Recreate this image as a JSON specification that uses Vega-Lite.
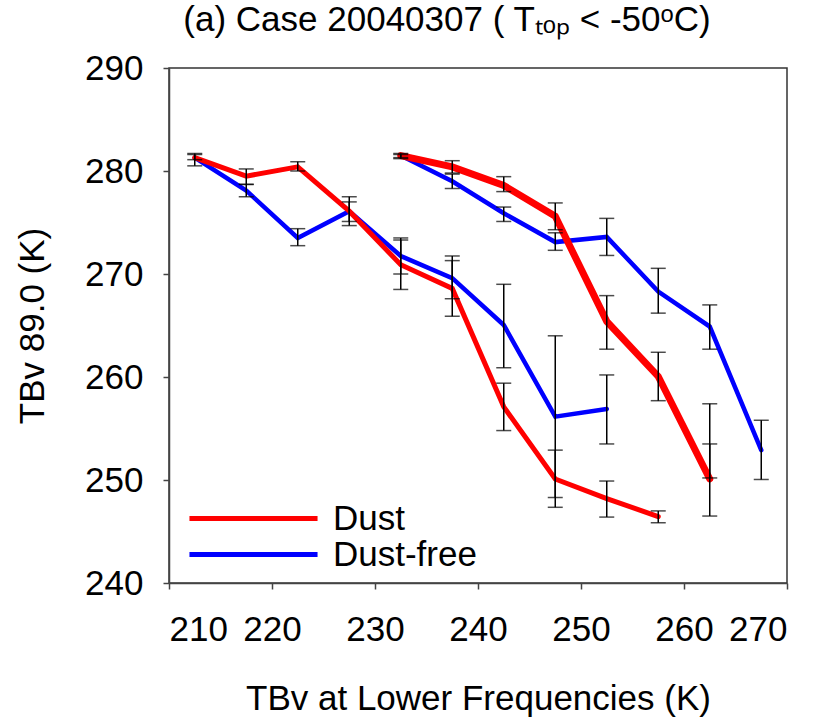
{
  "$schema": "https://vega.github.io/schema/vega-lite/v6.json",
  "width": 618,
  "height": 515,
  "autosize": "none",
  "padding": {"left": 169, "top": 68, "right": 33, "bottom": 138},
  "background": "white",
  "config": {
    "font": "Liberation Sans",
    "view": {"stroke": "#333333", "strokeWidth": 1.5},
    "axis": {
      "grid": false,
      "domainColor": "#444444",
      "domainWidth": 1.5,
      "tickColor": "#444444",
      "tickWidth": 1.5,
      "tickSize": 6,
      "labelFontSize": 35,
      "labelColor": "black",
      "labelFont": "Liberation Sans",
      "titleFontSize": 35,
      "titleFontWeight": "normal",
      "titleColor": "black",
      "titleFont": "Liberation Sans"
    },
    "legend": {
      "orient": "none",
      "legendX": 67,
      "legendY": 433,
      "symbolType": "M-4.27,0H4.27",
      "symbolSize": 900,
      "symbolStrokeWidth": 5,
      "labelFontSize": 35,
      "labelFont": "Liberation Sans",
      "labelColor": "black",
      "labelOffset": 62,
      "rowPadding": -3,
      "padding": 0
    }
  },
  "title": {
    "text": "(a) Case 20040307 ( Tₜₒₚ < -50ᵒC)",
    "fontSize": 35,
    "fontWeight": "normal",
    "font": "Liberation Sans",
    "color": "black",
    "anchor": "middle",
    "dx": -31,
    "dy": 33,
    "offset": 18,
    "baseline": "alphabetic"
  },
  "datasets": {
    "lines": [
      {"series": "Dust 18.7", "cond": "Dust", "freq": "18.7", "x": 212.5, "y": 281.3},
      {"series": "Dust 18.7", "cond": "Dust", "freq": "18.7", "x": 217.5, "y": 279.5},
      {"series": "Dust 18.7", "cond": "Dust", "freq": "18.7", "x": 222.5, "y": 280.4},
      {"series": "Dust 18.7", "cond": "Dust", "freq": "18.7", "x": 227.5, "y": 276.1},
      {"series": "Dust 18.7", "cond": "Dust", "freq": "18.7", "x": 232.5, "y": 270.9},
      {"series": "Dust 18.7", "cond": "Dust", "freq": "18.7", "x": 237.5, "y": 268.6},
      {"series": "Dust 18.7", "cond": "Dust", "freq": "18.7", "x": 242.5, "y": 257.1},
      {"series": "Dust 18.7", "cond": "Dust", "freq": "18.7", "x": 247.5, "y": 250.1},
      {"series": "Dust 18.7", "cond": "Dust", "freq": "18.7", "x": 252.5, "y": 248.2},
      {"series": "Dust 18.7", "cond": "Dust", "freq": "18.7", "x": 257.5, "y": 246.45},
      {"series": "Free 18.7", "cond": "Dust-free", "freq": "18.7", "x": 212.5, "y": 281.3},
      {"series": "Free 18.7", "cond": "Dust-free", "freq": "18.7", "x": 217.5, "y": 278.1},
      {"series": "Free 18.7", "cond": "Dust-free", "freq": "18.7", "x": 222.5, "y": 273.5},
      {"series": "Free 18.7", "cond": "Dust-free", "freq": "18.7", "x": 227.5, "y": 276.1},
      {"series": "Free 18.7", "cond": "Dust-free", "freq": "18.7", "x": 232.5, "y": 271.75},
      {"series": "Free 18.7", "cond": "Dust-free", "freq": "18.7", "x": 237.5, "y": 269.6},
      {"series": "Free 18.7", "cond": "Dust-free", "freq": "18.7", "x": 242.5, "y": 265.05},
      {"series": "Free 18.7", "cond": "Dust-free", "freq": "18.7", "x": 247.5, "y": 256.15},
      {"series": "Free 18.7", "cond": "Dust-free", "freq": "18.7", "x": 252.5, "y": 256.9},
      {"series": "Dust 36.5", "cond": "Dust", "freq": "36.5", "x": 232.5, "y": 281.5},
      {"series": "Dust 36.5", "cond": "Dust", "freq": "36.5", "x": 237.5, "y": 280.4},
      {"series": "Dust 36.5", "cond": "Dust", "freq": "36.5", "x": 242.5, "y": 278.6},
      {"series": "Dust 36.5", "cond": "Dust", "freq": "36.5", "x": 247.5, "y": 275.6},
      {"series": "Dust 36.5", "cond": "Dust", "freq": "36.5", "x": 252.5, "y": 265.4},
      {"series": "Dust 36.5", "cond": "Dust", "freq": "36.5", "x": 257.5, "y": 260.05},
      {"series": "Dust 36.5", "cond": "Dust", "freq": "36.5", "x": 262.5, "y": 250.1},
      {"series": "Free 36.5", "cond": "Dust-free", "freq": "36.5", "x": 232.5, "y": 281.5},
      {"series": "Free 36.5", "cond": "Dust-free", "freq": "36.5", "x": 237.5, "y": 279.0},
      {"series": "Free 36.5", "cond": "Dust-free", "freq": "36.5", "x": 242.5, "y": 275.9},
      {"series": "Free 36.5", "cond": "Dust-free", "freq": "36.5", "x": 247.5, "y": 273.1},
      {"series": "Free 36.5", "cond": "Dust-free", "freq": "36.5", "x": 252.5, "y": 273.6},
      {"series": "Free 36.5", "cond": "Dust-free", "freq": "36.5", "x": 257.5, "y": 268.3},
      {"series": "Free 36.5", "cond": "Dust-free", "freq": "36.5", "x": 262.5, "y": 264.9},
      {"series": "Free 36.5", "cond": "Dust-free", "freq": "36.5", "x": 267.5, "y": 252.9}
    ],
    "err": [
      {"x": 212.5, "lo": 280.5, "hi": 281.7},
      {"x": 212.5, "lo": 281.1, "hi": 281.6},
      {"x": 217.5, "lo": 278.7, "hi": 280.2},
      {"x": 217.5, "lo": 277.5, "hi": 278.7},
      {"x": 222.5, "lo": 280.0, "hi": 280.9},
      {"x": 222.5, "lo": 272.75, "hi": 274.4},
      {"x": 227.5, "lo": 275.1, "hi": 277.0},
      {"x": 227.5, "lo": 274.7, "hi": 277.5},
      {"x": 232.5, "lo": 268.5, "hi": 273.5},
      {"x": 232.5, "lo": 270.0, "hi": 273.3},
      {"x": 237.5, "lo": 265.9, "hi": 271.3},
      {"x": 237.5, "lo": 267.6, "hi": 271.75},
      {"x": 242.5, "lo": 254.8, "hi": 259.4},
      {"x": 242.5, "lo": 260.9, "hi": 269.0},
      {"x": 247.5, "lo": 247.35, "hi": 252.9},
      {"x": 247.5, "lo": 248.3, "hi": 264.0},
      {"x": 252.5, "lo": 246.4, "hi": 249.9},
      {"x": 252.5, "lo": 253.5, "hi": 260.2},
      {"x": 257.5, "lo": 245.85, "hi": 247.0},
      {"x": 232.5, "lo": 281.3, "hi": 281.7},
      {"x": 232.5, "lo": 281.2, "hi": 281.6},
      {"x": 237.5, "lo": 279.8, "hi": 281.0},
      {"x": 237.5, "lo": 278.3, "hi": 279.7},
      {"x": 242.5, "lo": 278.0, "hi": 279.45},
      {"x": 242.5, "lo": 275.1, "hi": 276.5},
      {"x": 247.5, "lo": 274.3, "hi": 276.9},
      {"x": 247.5, "lo": 272.3, "hi": 274.0},
      {"x": 252.5, "lo": 262.7, "hi": 267.9},
      {"x": 252.5, "lo": 271.8, "hi": 275.4},
      {"x": 257.5, "lo": 257.7, "hi": 262.4},
      {"x": 257.5, "lo": 266.2, "hi": 270.55},
      {"x": 262.5, "lo": 246.5, "hi": 253.5},
      {"x": 262.5, "lo": 250.2, "hi": 257.4},
      {"x": 262.5, "lo": 262.7, "hi": 267.0},
      {"x": 267.5, "lo": 250.05, "hi": 255.8}
    ]
  },
  "layer": [
    {
      "data": {"name": "lines"},
      "transform": [{"filter": "datum.cond === 'Dust-free'"}],
      "mark": {"type": "line", "strokeCap": "round", "strokeJoin": "miter", "strokeWidth": 4.5},
      "encoding": {
        "x": {
          "field": "x", "type": "quantitative",
          "scale": {"domain": [210, 270], "nice": false, "zero": false},
          "axis": {"values": [210, 220, 230, 240, 250, 260, 270], "labelPadding": 23, "title": "TBv at Lower Frequencies (K)", "titlePadding": 34}
        },
        "y": {
          "field": "y", "type": "quantitative",
          "scale": {"domain": [240, 290], "nice": false, "zero": false},
          "axis": {"values": [240, 250, 260, 270, 280, 290], "labelPadding": 20, "title": "TBv 89.0 (K)", "titlePadding": 34}
        },
        "color": {
          "field": "cond", "type": "nominal",
          "scale": {"domain": ["Dust", "Dust-free"], "range": ["#ff0000", "#0000ff"]},
          "legend": {"title": null}
        },
        "detail": {"field": "freq"}
      }
    },
    {
      "data": {"name": "lines"},
      "transform": [{"filter": "datum.series === 'Dust 18.7'"}],
      "mark": {"type": "line", "strokeCap": "round", "strokeJoin": "miter", "strokeWidth": 5},
      "encoding": {
        "x": {"field": "x", "type": "quantitative"},
        "y": {"field": "y", "type": "quantitative"},
        "color": {"field": "cond", "type": "nominal"},
        "detail": {"field": "freq"}
      }
    },
    {
      "data": {"name": "lines"},
      "transform": [{"filter": "datum.series === 'Dust 36.5'"}],
      "mark": {"type": "line", "strokeCap": "round", "strokeJoin": "miter", "strokeWidth": 7},
      "encoding": {
        "x": {"field": "x", "type": "quantitative"},
        "y": {"field": "y", "type": "quantitative"},
        "color": {"field": "cond", "type": "nominal"},
        "detail": {"field": "freq"}
      }
    },
    {
      "data": {"name": "err"},
      "mark": {"type": "rule", "color": "black", "strokeWidth": 1.5},
      "encoding": {
        "x": {"field": "x", "type": "quantitative"},
        "y": {"field": "lo", "type": "quantitative"},
        "y2": {"field": "hi"}
      }
    },
    {
      "data": {"name": "err"},
      "mark": {"type": "tick", "color": "black", "orient": "horizontal", "size": 15, "thickness": 1.5},
      "encoding": {
        "x": {"field": "x", "type": "quantitative"},
        "y": {"field": "lo", "type": "quantitative"}
      }
    },
    {
      "data": {"name": "err"},
      "mark": {"type": "tick", "color": "black", "orient": "horizontal", "size": 15, "thickness": 1.5},
      "encoding": {
        "x": {"field": "x", "type": "quantitative"},
        "y": {"field": "hi", "type": "quantitative"}
      }
    },
    {
      "mark": {"type": "text", "text": "vs. 18.7GHz", "fontSize": 35, "font": "Liberation Sans", "align": "left", "baseline": "alphabetic", "color": "black"},
      "encoding": {"x": {"datum": 211.5}, "y": {"datum": 267}}
    },
    {
      "mark": {"type": "text", "text": "vs. 36.5GHz", "fontSize": 35, "font": "Liberation Sans", "align": "right", "baseline": "alphabetic", "color": "black"},
      "encoding": {"x": {"datum": 269.5}, "y": {"datum": 277.25}}
    }
  ]
}
